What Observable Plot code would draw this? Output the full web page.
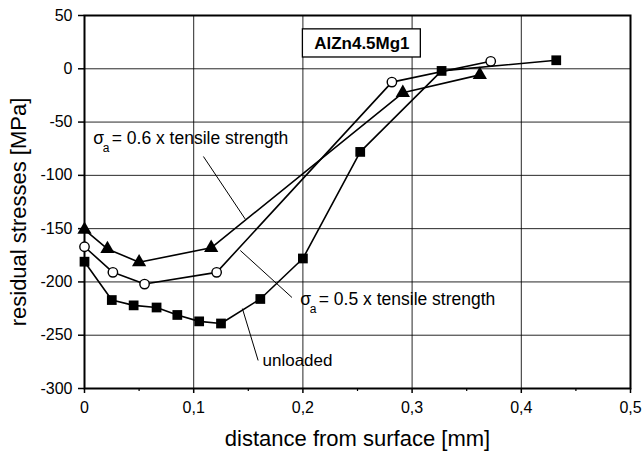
<!DOCTYPE html>
<html>
<head>
<meta charset="utf-8">
<script src="https://cdn.jsdelivr.net/npm/d3@7"></script>
<script src="https://cdn.jsdelivr.net/npm/@observablehq/plot@0.6"></script>
<style>
  html, body { margin: 0; padding: 0; background: white; }
</style>
</head>
<body>
<div id="chart"></div>
<script>
// ---- data ----
const xTicks = [0, 0.1, 0.2, 0.3, 0.4, 0.5];
const xTickLabels = ["0", "0,1", "0,2", "0,3", "0,4", "0,5"];
const xMinorTicks = [0.05, 0.15, 0.25, 0.35, 0.45];
const yTicks = [-300, -250, -200, -150, -100, -50, 0, 50];

// unloaded (filled squares)
const unloadedX = [0, 0.025, 0.045, 0.066, 0.085, 0.105, 0.125, 0.161, 0.2, 0.2525, 0.327, 0.432];
const unloadedY = [-181, -217, -222, -224, -231, -237, -239, -216, -178, -78, -2, 8];
// sigma_a = 0.5 x tensile strength (open circles)
const s05X = [0, 0.026, 0.055, 0.121, 0.2815, 0.372];
const s05Y = [-167, -191, -202, -191, -12.5, 7];
// sigma_a = 0.6 x tensile strength (filled triangles)
const s06X = [0, 0.021, 0.050, 0.116, 0.2915, 0.362];
const s06Y = [-151, -169, -181.5, -168, -22.5, -5.7];

const titleLabel = "AlZn4.5Mg1";
const xLabel = "distance from surface [mm]";
const yLabel = "residual stresses [MPa]";

// annotations (data units)
const titleBox = [{x1: 0.2, x2: 0.308, y1: 10.6, y2: 37}];
const sigmaNotes = [
  {x: 0.008, y: -65, text: "= 0.6 x tensile strength"},
  {x: 0.1976, y: -216, text: "= 0.5 x tensile strength"}
];
const plainNotes = [{x: 0.163, y: -273.5, text: "unloaded"}];
const leaders = [
  {x1: 0.1089, y1: -82.3, x2: 0.1473, y2: -141.2},
  {x1: 0.1427, y1: -170.5, x2: 0.190, y2: -214.6},
  {x1: 0.1446, y1: -225, x2: 0.159, y2: -273.7}
];

const toRows = (xs, ys) => xs.map((x, i) => ({x, y: ys[i]}));
const unloaded = toRows(unloadedX, unloadedY);
const s05 = toRows(s05X, s05Y);
const s06 = toRows(s06X, s06Y);

const FONT = "'Liberation Sans', Arial, Helvetica, sans-serif";

const chart = Plot.plot({
  width: 642,
  height: 452,
  marginLeft: 84,
  marginRight: 12,
  marginTop: 15,
  marginBottom: 64,
  style: {fontFamily: FONT, fontSize: "16px", color: "black", background: "white", overflow: "visible"},
  x: {domain: [0, 0.5]},
  y: {domain: [-300, 50]},
  marks: [
    Plot.gridX(xTicks, {stroke: "black", strokeOpacity: 0.85, strokeWidth: 1}),
    Plot.gridY(yTicks, {stroke: "black", strokeOpacity: 0.85, strokeWidth: 1}),
    Plot.axisX(xTicks, {anchor: "bottom", tickSize: 5, tickPadding: 8, strokeWidth: 1.5,
      tickFormat: d => xTickLabels[xTicks.indexOf(d)], label: null}),
    Plot.axisX(xMinorTicks, {anchor: "bottom", tickSize: 3, tickPadding: 0, strokeWidth: 1.2,
      tickFormat: () => "", label: null}),
    Plot.axisY(yTicks, {anchor: "left", tickSize: 6, tickPadding: 6, strokeWidth: 1.5,
      tickFormat: d => String(d), label: null}),
    Plot.frame({stroke: "black", strokeWidth: 2}),
    Plot.text([xLabel], {text: d => d, frameAnchor: "bottom", textAnchor: "middle", lineAnchor: "middle",
      dy: 50, fontSize: 22}),
    Plot.text([yLabel], {text: d => d, frameAnchor: "left", textAnchor: "middle", lineAnchor: "middle",
      dx: -66, dy: 10, rotate: -90, fontSize: 22}),
    // title box
    Plot.rect(titleBox, {x1: "x1", x2: "x2", y1: "y1", y2: "y2", fill: "white", stroke: "black", strokeWidth: 1.3}),
    Plot.text(titleBox, {x: d => (d.x1 + d.x2) / 2, y: d => (d.y1 + d.y2) / 2, text: () => titleLabel,
      fontWeight: "bold", fontSize: 17}),
    // leaders
    Plot.link(leaders, {x1: "x1", y1: "y1", x2: "x2", y2: "y2", stroke: "black", strokeWidth: 1}),
    // series lines
    Plot.line(unloaded, {x: "x", y: "y", stroke: "black", strokeWidth: 1.6}),
    Plot.line(s05, {x: "x", y: "y", stroke: "black", strokeWidth: 1.6}),
    Plot.line(s06, {x: "x", y: "y", stroke: "black", strokeWidth: 1.6}),
    // markers
    Plot.dot(unloaded, {x: "x", y: "y", symbol: "square", r: 5.5, fill: "black", stroke: "none"}),
    Plot.dot(s06, {x: "x", y: "y", symbol: "triangle", r: 5.3, fill: "black", stroke: "none"}),
    Plot.dot(s05, {x: "x", y: "y", symbol: "circle", r: 4.7, fill: "white", stroke: "black", strokeWidth: 1.4}),
    // annotation texts
    Plot.text(sigmaNotes, {x: "x", y: "y", text: () => "σ", textAnchor: "start", fontSize: 17.5}),
    Plot.text(sigmaNotes, {x: "x", y: "y", text: () => "a", textAnchor: "start", fontSize: 12, dx: 9.5, dy: 10}),
    Plot.text(sigmaNotes, {x: "x", y: "y", text: "text", textAnchor: "start", fontSize: 17.5, dx: 18.5}),
    Plot.text(plainNotes, {x: "x", y: "y", text: "text", textAnchor: "start", fontSize: 17})
  ]
});

document.getElementById("chart").appendChild(chart);
</script>
</body>
</html>
